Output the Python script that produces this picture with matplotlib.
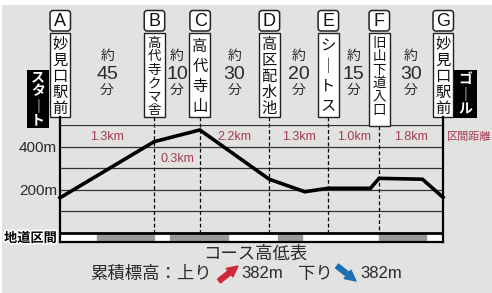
import matplotlib
matplotlib.use('Agg')
import matplotlib.pyplot as plt
import matplotlib.patheffects as pe
from matplotlib import font_manager
from matplotlib.patches import Rectangle, FancyBboxPatch
from matplotlib.transforms import blended_transform_factory

# course data (x = horizontal position on the drawing, elevation in m)
stations = ['A', 'B', 'C', 'D', 'E', 'F', 'G']
station_names = ['妙見口駅前', '高代寺クマ舎', '高代寺山', '高区配水池', 'シートス', '旧山下道入口', '妙見口駅前']
station_x = [0, 94.3, 140, 209.3, 268.3, 319.3, 383.3]
profile_x = [0, 94.3, 140, 209.3, 245, 268.3, 310.7, 319.3, 362.7, 383.3]
profile_elev = [163, 423, 477, 249, 191, 207, 207, 253, 249, 165]
leg_minutes = ['45', '10', '30', '20', '15', '30']
leg_km = ['1.3km', '0.3km', '2.2km', '1.3km', '1.0km', '1.8km']
road_sections = [(36.7, 94.3), (110, 167.7), (217.7, 242), (319, 366.7)]
total_up = 382
total_down = 382

# pick a narrow font for numbers if there is one
names = {f.name for f in font_manager.fontManager.ttflist}
narrow_first = 'Liberation Sans Narrow' if 'Liberation Sans Narrow' in names else 'Liberation Sans'
CJK = ['Noto Sans CJK JP', 'DejaVu Sans']
NARROW = [narrow_first, 'Noto Sans CJK JP', 'DejaVu Sans']
BG = '#e2e2e0'
RED = '#a53b56'
TXT = '#2a2a2a'

fig = plt.figure(figsize=(4.92, 2.93), dpi=100)
fig.patch.set_facecolor('white')

# background overlay (pixel coords)
bg = fig.add_axes([0, 0, 1, 1], zorder=0)
bg.set_xlim(0, 492)
bg.set_ylim(293, 0)
bg.axis('off')
bg.add_patch(Rectangle((2, 5), 490, 288, color=BG, lw=0))

# main profile axes
ylow = -9 / 108 * 500
ax = fig.add_axes([60 / 492, 51 / 293, 383 / 492, 117 / 293], zorder=1)
ax.set_facecolor('none')
ax.set_xlim(0, 383.3)
ax.set_ylim(ylow, 500)
for y in [100, 200, 300, 400, 500]:
    ax.axhline(y, color='#333333', lw=0.9, zorder=1)
ax.add_patch(Rectangle((0, ylow), 383.3, -ylow, color='white', lw=0, zorder=0))
ax.broken_barh([(a, b - a) for a, b in road_sections], (-35.6, 26.3), color='#999999', zorder=2)
ax.axhline(0, color='black', lw=2, zorder=3)
ax.plot(profile_x, profile_elev, color='black', lw=2.6, solid_joinstyle='miter',
        zorder=4, clip_on=False)
ax.spines['top'].set_visible(False)
for s in ['left', 'right', 'bottom']:
    ax.spines[s].set_linewidth(1.6)
ax.set_xticks([])
ax.set_yticks([200, 400])
ax.set_yticklabels(['200m', '400m'], family=NARROW, fontsize=11, color=TXT)
ax.tick_params(axis='y', length=0, pad=2)

# foreground overlay
fg = fig.add_axes([0, 0, 1, 1], zorder=2)
fg.set_xlim(0, 492)
fg.set_ylim(293, 0)
fg.axis('off')
tr = blended_transform_factory(ax.transData, fg.transData)

for i, (lab, name, x) in enumerate(zip(stations, station_names, station_x)):
    # letter box
    fg.add_patch(FancyBboxPatch((x - 10, 10.5), 20.5, 20.5, boxstyle='round,pad=0,rounding_size=3',
                                fc='white', ec='#222222', lw=1.1, transform=tr))
    fg.text(x + 0.3, 21, lab, transform=tr, ha='center', va='center', fontsize=13,
            family='Liberation Sans', color='#111111')
    # name box
    bottom = 126 if lab == 'F' else 117
    fg.add_patch(Rectangle((x - 10.5, 33), 21, bottom - 33, fc='white', ec='#222222',
                           lw=1.0, transform=tr))
    chars = list(name.replace('ー', '｜'))
    pitch = (117 - 36) / len(chars)
    fs = min(11, pitch * 0.72)
    for k, ch in enumerate(chars):
        fg.text(x, 36 + (k + 0.5) * pitch, ch, transform=tr, ha='center', va='center',
                fontsize=fs, family=CJK, color='#111111')
    # vertical guide lines
    if 0 < i < len(stations) - 1:
        fg.plot([x, x], [bottom, 233], transform=tr, color='black', lw=0.9,
                ls=(0, (3, 2)))
    else:
        fg.plot([x, x], [bottom, 125], transform=tr, color='black', lw=1.6)

for i in range(len(leg_minutes)):
    xm = (station_x[i] + station_x[i + 1]) / 2
    fg.text(xm, 55.5, '約', transform=tr, ha='center', va='center', fontsize=10,
            family=CJK, color=TXT)
    fg.text(xm, 74.5, leg_minutes[i], transform=tr, ha='center', va='center', fontsize=14,
            family=NARROW, color=TXT)
    fg.text(xm, 90, '分', transform=tr, ha='center', va='center', fontsize=10,
            family=CJK, color=TXT)
    ky = 159 if i == 1 else 137
    fg.text(xm, ky, leg_km[i], transform=tr, ha='center', va='center', fontsize=9,
            family=NARROW, color=RED)

fg.text(469, 137, '区間距離', ha='center', va='center', fontsize=8, family=CJK, color=RED)

# start / goal tags
fg.add_patch(Rectangle((27, 70), 22, 58, color='black', lw=0))
for k, ch in enumerate(['ス', 'タ', '｜', 'ト']):
    fg.text(38, 77 + k * 14.5, ch, ha='center', va='center', fontsize=10, weight='bold',
            family=CJK, color='white')
fg.add_patch(Rectangle((454, 70), 23, 48, color='black', lw=0))
for k, ch in enumerate(['ゴ', '｜', 'ル']):
    fg.text(465.5, 79 + k * 15, ch, ha='center', va='center', fontsize=10, weight='bold',
            family=CJK, color='white')

fg.text(57, 238, '地道区間', ha='right', va='center', fontsize=9.5, weight='bold',
        family=CJK, color='black',
        path_effects=[pe.withStroke(linewidth=2.5, foreground='white')])

# titles
fg.text(255, 253.5, 'コース高低表', ha='center', va='center', fontsize=12.5, family=CJK, color=TXT)
fg.text(90, 274, '累積標高：上り', ha='left', va='center', fontsize=12.5, family=CJK, color=TXT)
fg.annotate('', xy=(238, 266), xytext=(219, 281),
            arrowprops=dict(arrowstyle='simple,head_length=0.55,head_width=0.55,tail_width=0.25',
                            color='#d0283a', shrinkA=0, shrinkB=0, mutation_scale=14))
fg.text(241, 274, f'{total_up}m', ha='left', va='center', fontsize=12, family=NARROW, color=TXT)
fg.text(298, 274, '下り', ha='left', va='center', fontsize=12.5, family=CJK, color=TXT)
fg.annotate('', xy=(356, 281), xytext=(337, 266),
            arrowprops=dict(arrowstyle='simple,head_length=0.55,head_width=0.55,tail_width=0.25',
                            color='#1b6fb3', shrinkA=0, shrinkB=0, mutation_scale=14))
fg.text(360, 274, f'{total_down}m', ha='left', va='center', fontsize=12, family=NARROW, color=TXT)

fig.savefig('out.png', dpi=100, facecolor=fig.get_facecolor())
